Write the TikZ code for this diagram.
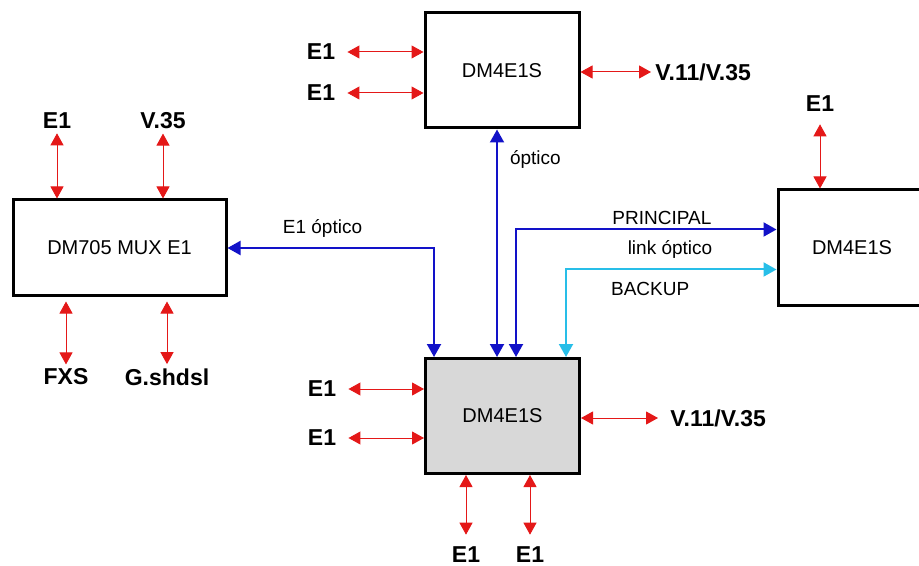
\documentclass[tikz,border=0pt]{standalone}
\usepackage{fontspec}
\setmainfont{Liberation Sans}
\usepackage{tikz}
\usetikzlibrary{positioning, arrows.meta}

\definecolor{sigred}{RGB}{228,24,24}
\definecolor{optblue}{RGB}{18,18,200}
\definecolor{optcyan}{RGB}{40,190,232}
\definecolor{boxgray}{RGB}{216,216,216}

\tikzset{
  unit/.style={draw, line width=1.5pt, minimum width=77pt, minimum height=57.5pt, font=\fontsize{10}{12}\selectfont},
  port/.style={inner sep=2pt, font=\fontsize{11.5}{13}\selectfont\bfseries},
  linktext/.style={inner sep=1pt, text=black, font=\fontsize{9.5}{11}\selectfont},
  sig/.style={{Triangle[length=6pt,width=6.5pt]}-{Triangle[length=6pt,width=6.5pt]}, sigred, line width=0.5pt},
  opt/.style={{Triangle[length=6.5pt,width=7pt]}-{Triangle[length=6.5pt,width=7pt]}, optblue, line width=1pt}
}

\begin{document}
\begin{tikzpicture}[x=0.5pt,y=-0.5pt]
    \clip (0,0) rectangle (919,566);

    \node[unit] (dmtop) at (502,70.5) {DM4E1S};
    \node[unit, fill=boxgray] (dmmain) at (502.5,416) {DM4E1S};
    \node[unit, minimum width=106.5pt, minimum height=48pt] (mux) at (119.5,248) {DM705 MUX E1};
    \node[unit, minimum width=74pt] (dmright) at (852,247.5) {DM4E1S};

    \node[port] (pt1) at (321,52) {E1};
    \node[port] (pt2) at (321,93) {E1};
    \node[port, anchor=west] (pt3) at (651,72) {V.11/V.35};
    \draw[sig, shorten <=4pt] (pt1) -- (pt1 -| dmtop.west);
    \draw[sig, shorten <=4pt] (pt2) -- (pt2 -| dmtop.west);
    \draw[sig] (dmtop.east |- pt3) -- (pt3);

    \node[port] (pm1) at (322,389) {E1};
    \node[port] (pm2) at (322,438) {E1};
    \node[port, anchor=west] (pm3) at (666,418) {V.11/V.35};
    \node[port] (pm4) at (466,555) {E1};
    \node[port] (pm5) at (530,555) {E1};
    \draw[sig, shorten <=4pt] (pm1) -- (pm1 -| dmmain.west);
    \draw[sig, shorten <=4pt] (pm2) -- (pm2 -| dmmain.west);
    \draw[sig, shorten >=4pt] (dmmain.east |- pm3) -- (pm3);
    \draw[sig, shorten >=4pt] (dmmain.south -| pm4) -- (pm4);
    \draw[sig, shorten >=4pt] (dmmain.south -| pm5) -- (pm5);

    \node[port] (pl1) at (57,121) {E1};
    \node[port] (pl2) at (163,121) {V.35};
    \node[port] (pl3) at (66,377) {FXS};
    \node[port] (pl4) at (167,377) {G.shdsl};
    \draw[sig] (pl1) -- (pl1 |- mux.north);
    \draw[sig] (pl2) -- (pl2 |- mux.north);
    \draw[sig, shorten <=2pt] (mux.south -| pl3) -- (pl3);
    \draw[sig, shorten <=2pt] (mux.south -| pl4) -- (pl4);

    \node[port] (pr1) at (820,104) {E1};
    \draw[sig, shorten <=4pt] (pr1) -- (pr1 |- dmright.north);

    \draw[opt] (mux.east) -| ([xshift=5pt]dmmain.north west)
        node[linktext, pos=0.23, above=4pt] {E1 óptico};
    \draw[opt] ([xshift=-2.5pt]dmtop.south) -- ([xshift=-2.5pt]dmtop.south |- dmmain.north)
        node[linktext, pos=0.13, right=5pt] {óptico};
    \draw[opt] ([xshift=46pt]dmmain.north west) |- ([yshift=9pt]dmright.west)
        node[linktext, pos=0.78, above=1pt] {PRINCIPAL};
    \draw[opt, optcyan] ([xshift=71pt]dmmain.north west) |- ([yshift=-11pt]dmright.west)
        node[linktext, pos=0.70, below=5pt] {BACKUP};
    \node[linktext] (linklbl) at (670,249) {link óptico};
\end{tikzpicture}
\end{document}
